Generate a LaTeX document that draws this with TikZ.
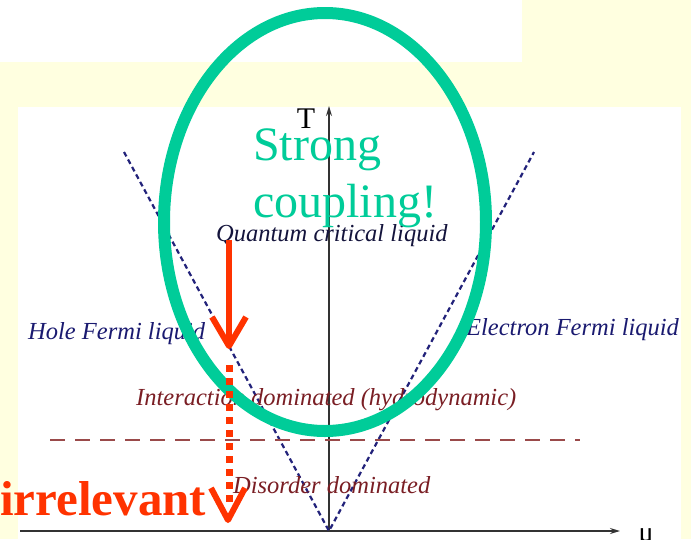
\documentclass[tikz,border=0pt]{standalone}
\usepackage{fontspec}
\setmainfont{Liberation Serif}
\usetikzlibrary{arrows.meta}
\definecolor{bgyellow}{HTML}{FFFFE0}
\definecolor{sgreen}{HTML}{00CC99}
\definecolor{hotred}{HTML}{FF3300}
\definecolor{navytxt}{HTML}{1A1A70}
\definecolor{darknavy}{HTML}{14143C}
\definecolor{maroontxt}{HTML}{7A1E24}
\definecolor{dashred}{HTML}{9A4A4A}
\definecolor{vblue}{HTML}{22227A}
\begin{document}
\begin{tikzpicture}[x=1pt,y=-1pt,
  lab/.style={font=\fontsize{24.5}{28}\selectfont\itshape, inner sep=0pt, anchor=west},
  axisline/.style={draw=black!80, line width=1.4pt, -{Stealth[length=10pt,width=6pt]}},
  vline/.style={draw=vblue, line width=2.2pt, dash pattern=on 5pt off 3.5pt},
  regionline/.style={draw=dashred, line width=1.4pt, dash pattern=on 15pt off 10pt},
  ring/.style={draw=sgreen, line width=12pt},
  redstroke/.style={draw=hotred, line width=6pt, line join=round},
  reddots/.style={draw=hotred, line width=7pt, dash pattern=on 7pt off 6pt},
  bigtxt/.style={font=\fontsize{48}{57}\selectfont, inner sep=0pt, anchor=base west, text=sgreen}
]
\useasboundingbox (0,0) rectangle (691,539);
\clip (0,0) rectangle (691,539);
\fill[bgyellow] (0,0) rectangle (691,539);
\fill[white] (0,0) rectangle (522,62);
\fill[white] (18,107) rectangle (681,539);

% axes
\coordinate (O) at (329,531);
\coordinate (Ttop) at (329,106);
\coordinate (Xl) at (20,531);
\coordinate (Xr) at (620,531);
\coordinate (VL) at (124,152);
\coordinate (VR) at (534,152);
\coordinate (DL) at (50,440);
\coordinate (DR) at (580,440);

\draw[axisline] (O) -- (Ttop);
\draw[axisline] (Xl) -- (Xr);
\node[font=\fontsize{30}{32}\selectfont, inner sep=0pt, anchor=base] (Tlab) at (306,128) {T};
\node[font=\fontsize{28}{30}\selectfont, inner sep=0pt, anchor=base] (mulab) at (646,541) {μ};

% crossover lines
\draw[vline] (VL) -- (O) -- (VR);
\draw[regionline] (DL) -- (DR);

% region labels
\node[lab, text=darknavy] (qcl) at (216,236) {Quantum critical liquid};
\node[lab, text=navytxt] (hfl) at (28,334) {Hole Fermi liquid};
\node[lab, text=navytxt] (efl) at (466,330) {Electron Fermi liquid};
\node[lab, text=maroontxt] (idom) at (136,400) {Interaction dominated (hydrodynamic)};
\node[lab, text=maroontxt] (ddom) at (233,485) {Disorder dominated};

% strong coupling ring
\draw[ring] (325,222) ellipse [x radius=161, y radius=209];
\node[bigtxt] (sc1) at (253,160) {Strong};
\node[bigtxt] (sc2) at (253,217) {coupling!};

% red arrows
\coordinate (A0) at (229,240);
\coordinate (A1) at (229,346);
\coordinate (A1l) at (212,317);
\coordinate (A1r) at (246,317);
\coordinate (B0) at (229,365);
\coordinate (B1) at (229,508);
\coordinate (B2) at (228,520);
\coordinate (B2l) at (211,488);
\coordinate (B2r) at (245,488);
\draw[redstroke] (A0) -- (A1);
\draw[redstroke] (A1l) -- (A1) -- (A1r);
\draw[reddots] (B0) -- (B1);
\draw[redstroke] (B2l) -- (B2) -- (B2r);
\node[font=\fontsize{49}{52}\selectfont\bfseries, text=hotred, inner sep=0pt, anchor=base west] (irr) at (0,515) {irrelevant};
\end{tikzpicture}
\end{document}
